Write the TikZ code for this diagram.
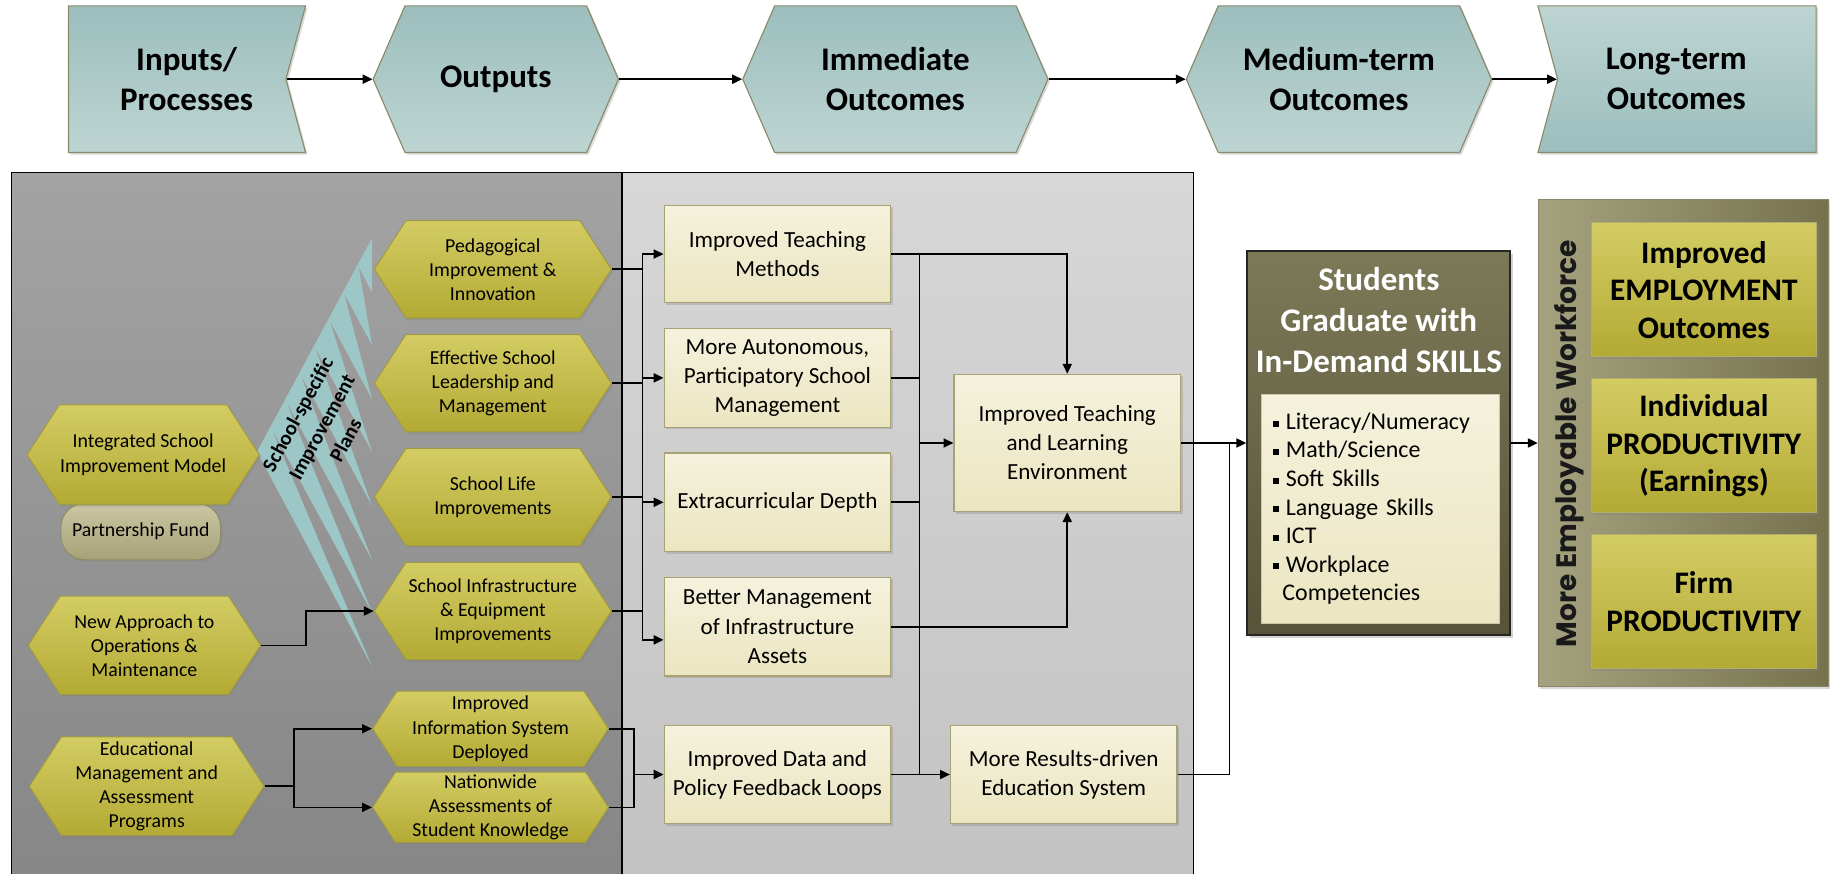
\documentclass[tikz,border=0pt]{standalone}
\usepackage{fontspec}
\setmainfont{Carlito}
\newfontfamily\wffont{Poppins}
\usepackage{tikz}
\usetikzlibrary{arrows,arrows.meta,shapes,positioning,calc,shadows}

\definecolor{tealTop}{HTML}{9CBEBD}
\definecolor{tealBot}{HTML}{BDD5D2}
\definecolor{tealEdge}{HTML}{8B8A6A}
\definecolor{oliveTop}{HTML}{D3CC63}
\definecolor{oliveBot}{HTML}{B3AA34}
\definecolor{oliveEdge}{HTML}{A09A45}
\definecolor{creamTop}{HTML}{F5F2DD}
\definecolor{creamBot}{HTML}{EBE5C1}
\definecolor{creamEdge}{HTML}{A8A274}
\definecolor{darkPanelTop}{HTML}{A3A3A3}
\definecolor{darkPanelBot}{HTML}{868686}
\definecolor{lightPanelTop}{HTML}{D7D7D7}
\definecolor{lightPanelBot}{HTML}{C2C2C2}
\definecolor{wedgeTeal}{HTML}{9DC7C6}
\definecolor{skillTop}{HTML}{7C7958}
\definecolor{skillBot}{HTML}{57533A}
\definecolor{wfLeft}{HTML}{A5A280}
\definecolor{wfRight}{HTML}{76724E}
\definecolor{wfEdge}{HTML}{8A8766}
\definecolor{fundTop}{HTML}{CBC7A3}
\definecolor{fundBot}{HTML}{A5A178}
\definecolor{fundEdge}{HTML}{8F8B62}

\newcommand{\bul}{\raisebox{1.7pt}{\rule{3.6pt}{3.6pt}}\hspace{4pt}}
\newcommand{\phasefont}{\fontsize{20}{24.2}\selectfont\bfseries}

\begin{document}
\begin{tikzpicture}[->,>={Triangle[length=6pt,width=5.5pt]},x=0.025cm,y=-0.025cm,line width=1pt]
\tikzset{
	softShadow/.style={drop shadow={shadow xshift=1.2pt, shadow yshift=-1.2pt, opacity=0.3}},
	phaseBox/.style={
		signal, signal to=east and west, signal pointer angle=133,
		minimum width=6.5cm, minimum height=3.125cm, inner sep=0pt,
		top color=tealTop, bottom color=tealBot, draw=tealEdge,
		line width=0.7pt, align=center, softShadow, font=\phasefont
	},
	hexBox/.style={
		signal, signal to=east and west, signal pointer angle=114,
		minimum width=5.05cm, minimum height=2.075cm, inner sep=0pt,
		top color=oliveTop, bottom color=oliveBot, draw=oliveEdge,
		line width=0.6pt, align=center, softShadow,
		font=\fontsize{12}{14.6}\selectfont
	},
	fundBox/.style={
		rectangle, rounded corners=0.5cm, minimum width=3.4cm, minimum height=1.2cm,
		top color=fundTop, bottom color=fundBot, draw=fundEdge,
		line width=0.6pt, softShadow, font=\fontsize{12}{14}\selectfont
	},
	resultBox/.style={
		rectangle, minimum width=4.825cm, minimum height=2.1cm, inner sep=0pt,
		top color=creamTop, bottom color=creamBot, draw=creamEdge,
		line width=0.7pt, align=center, softShadow,
		font=\fontsize{14}{17.6}\selectfont
	},
	listBox/.style={
		rectangle, minimum width=5.075cm, minimum height=4.875cm, text width=130pt,
		inner xsep=7pt, top color=creamTop, bottom color=creamBot, draw=creamEdge!60,
		line width=0.5pt, align=left, font=\fontsize{14.5}{17.3}\selectfont
	},
	gainBox/.style={
		rectangle, minimum width=4.8cm, minimum height=2.85cm, inner sep=0pt,
		top color=oliveTop, bottom color=oliveBot, draw=oliveEdge!80,
		line width=0.6pt, align=center, softShadow,
		font=\fontsize{19}{22.8}\selectfont\bfseries
	}
}

\useasboundingbox (0,0) rectangle (1568,744);

%---------------- panels ------------
\shade[-, top color=darkPanelTop, bottom color=darkPanelBot] (10,147) rectangle (530,760);
\shade[-, top color=lightPanelTop, bottom color=lightPanelBot] (530,147) rectangle (1017,760);
\draw[-, line width=0.9pt] (10,760) -- (10,147) -- (1017,147) -- (1017,760);
\draw[-, line width=0.9pt] (530,147) -- (530,760);

%improvement plans wedge
\fill[-, wedgeTeal] (317,203) -- (317,249) -- (305.6,227) -- (317,294) -- (293.2,250)
 -- (317,340) -- (280.8,273) -- (317,385) -- (268.4,296) -- (317,431) -- (256,319)
 -- (317,477) -- (243.7,342) -- (317,522) -- (231.3,365) -- (317,568) -- (219,385) -- cycle;
\node[rotate=61.5, align=center, font=\fontsize{12.5}{16.5}\selectfont\bfseries]
(SSIP) at (274,364) {School-specific\\Improvement\\Plans};

%--------------------------- phases on top ------------
\node[phaseBox, signal to=nowhere, signal from=east, signal pointer angle=150,
minimum width=5.05cm,
label={[shift={(5.7pt,0)}, align=center, font=\phasefont]center:Inputs/\\Processes}]
(IN) at (151,67.5) {};
\node[phaseBox, minimum width=5.225cm] (OUT) at (422.5,67.5) {Outputs};
\node[phaseBox] (IMM) at (763,67.5) {Immediate\\Outcomes};
\node[phaseBox] (MED) at (1141,67.5) {Medium-term\\Outcomes};
\node[phaseBox, signal to=nowhere, signal from=west, signal pointer angle=150,
minimum width=5.925cm, top color=tealBot, bottom color=tealTop,
label={[shift={(-6.4pt,0)}, align=center, font=\phasefont]center:Long-term\\Outcomes}]
(LONG) at (1437.5,67.5) {};

\draw (IN.east) -- (OUT.west);
\draw (OUT.east) -- (IMM.west);
\draw (IMM.east) -- (MED.west);
\draw (MED.east) -- (LONG.west);

%--------------------------- inputs ------------
\node[fundBox] (PF) at (120,453) {Partnership Fund};
\node[hexBox, minimum width=4.95cm, minimum height=2.125cm] (ISM) at (122,387.5) {Integrated School\\Improvement Model};
\node[hexBox, minimum width=4.95cm, minimum height=2.1cm] (NAO) at (123,550) {New Approach to\\Operations \&\\Maintenance};
\node[hexBox, minimum width=5cm, minimum height=2.1cm] (EMAP) at (125,670) {Educational\\Management and\\Assessment\\Programs};

%--------------------------- outputs ------------
\node[hexBox] (PED) at (420,229.5) {Pedagogical\\Improvement \&\\Innovation};
\node[hexBox, below=0.33cm of PED] (ESL) {Effective School\\Leadership and\\Management};
\node[hexBox, below=0.33cm of ESL] (SLI) {School Life\\Improvements};
\node[hexBox, below=0.33cm of SLI] (SIE) {School Infrastructure\\\& Equipment\\Improvements};
\node[hexBox, minimum width=5.025cm, minimum height=1.6cm] (IIS) at (418,621) {Improved\\Information System\\Deployed};
\node[hexBox, minimum width=5.025cm, minimum height=1.5cm] (NAS) at (418,688) {Nationwide\\Assessments of\\Student Knowledge};

\draw (NAO.east) -- ++(38,0) |- (SIE.west);
\coordinate (EMSPLIT) at ($(EMAP.east)+(25,0)$);
\draw[-] (EMAP.east) -- (EMSPLIT);
\draw (EMSPLIT) |- (IIS.west);
\draw (EMSPLIT) |- (NAS.west);

%--------------------------- immediate outcomes ------------
\node[resultBox, minimum height=2.075cm] (ITM) at (662.5,216.5) {Improved Teaching\\Methods};
\node[resultBox, below=0.525cm of ITM] (MAM) {More Autonomous,\\Participatory School\\Management};
\node[resultBox, below=0.525cm of MAM] (ECD) {Extracurricular Depth};
\node[resultBox, below=0.525cm of ECD] (BMI) {Better Management\\of Infrastructure\\Assets};
\node[resultBox] (IDP) at (662.5,660) {Improved Data and\\Policy Feedback Loops};

\node[resultBox, minimum height=2.925cm] (TLE) at (909.5,377.5) {Improved Teaching\\and Learning\\Environment};
\node[resultBox] (MRE) at (906.5,660) {More Results-driven\\Education System};

%bus from outputs
\coordinate (BUSA) at ($(ITM.west)+(-18,0)$);
\coordinate (BMIIN) at ([yshift=-8pt]BMI.west);
\draw[-] (PED.east) -- (PED.east -| BUSA);
\draw[-] (ESL.east) -- (ESL.east -| BUSA);
\draw[-] (SLI.east) -- (SLI.east -| BUSA);
\draw[-] (SIE.east) -- (SIE.east -| BUSA);
\draw[-] (BUSA) -- (BUSA |- BMIIN);
\draw (BUSA |- ITM.west) -- (ITM.west);
\draw (BUSA |- MAM.west) -- (MAM.west);
\draw (BUSA |- ECD.west) -- (ECD.west);
\draw (BUSA |- BMIIN) -- (BMIIN);

\coordinate (DATAJOIN) at ($(IDP.west)+(-25,0)$);
\draw[-] (IIS.east) -| (DATAJOIN);
\draw[-] (NAS.east) -| (DATAJOIN);
\draw (DATAJOIN) -- (IDP.west);

%bus to medium-term
\coordinate (BUSB) at ($(ITM.east)+(24,0)$);
\draw (ITM.east) -| (TLE.north);
\draw (BMI.east) -| (TLE.south);
\draw[-] (BUSB) -- (BUSB |- IDP.east);
\draw[-] (MAM.east) -- (MAM.east -| BUSB);
\draw[-] (ECD.east) -- (ECD.east -| BUSB);
\draw (BUSB |- TLE.west) -- (TLE.west);
\draw (IDP.east) -- (MRE.west);

%--------------------------- skills ------------
\node[draw=black!85, line width=1.3pt, top color=skillTop, bottom color=skillBot,
minimum width=5.6cm, minimum height=8.175cm,
drop shadow={shadow xshift=1.8pt, shadow yshift=-1.8pt, opacity=0.35}] (STU) at (1175,377.5) {};
\node[text=white, align=center, font=\fontsize{20}{24.9}\selectfont\bfseries]
(STUT) at (1175,273) {Students\\Graduate with\\In-Demand SKILLS};
\node[listBox] (LIST) at (1176.5,433.5) {\bul Literacy/Numeracy\\ \bul Math/Science\\ \bul Soft Skills\\
\bul Language Skills\\ \bul ICT\\ \bul Workplace\\ \hspace*{5.5pt}Competencies};

\draw (TLE.east) -- (STU.west);
\coordinate (RESJOIN) at ($(TLE.east)!0.74!(STU.west)$);
\draw[-] (MRE.east) -| (RESJOIN);

%--------------------------- long-term ------------
\node[rectangle, minimum width=6.175cm, minimum height=10.375cm, left color=wfLeft,
right color=wfRight, draw=wfEdge, line width=0.7pt, softShadow] (WF) at (1434.5,377.5) {};
\node[rotate=90, text=black!90, font=\wffont\fontsize{17}{20}\selectfont\bfseries]
(WFT) at (1337,378) {More Employable Workforce};
\node[gainBox] (EMP) at (1452,247) {Improved\\EMPLOYMENT\\Outcomes};
\node[gainBox, below=0.45cm of EMP] (IND) {Individual\\PRODUCTIVITY\\(Earnings)};
\node[gainBox, below=0.45cm of IND] (FIRM) {Firm\\PRODUCTIVITY};

\draw (STU.east) -- (WF.west);

\end{tikzpicture}
\end{document}
